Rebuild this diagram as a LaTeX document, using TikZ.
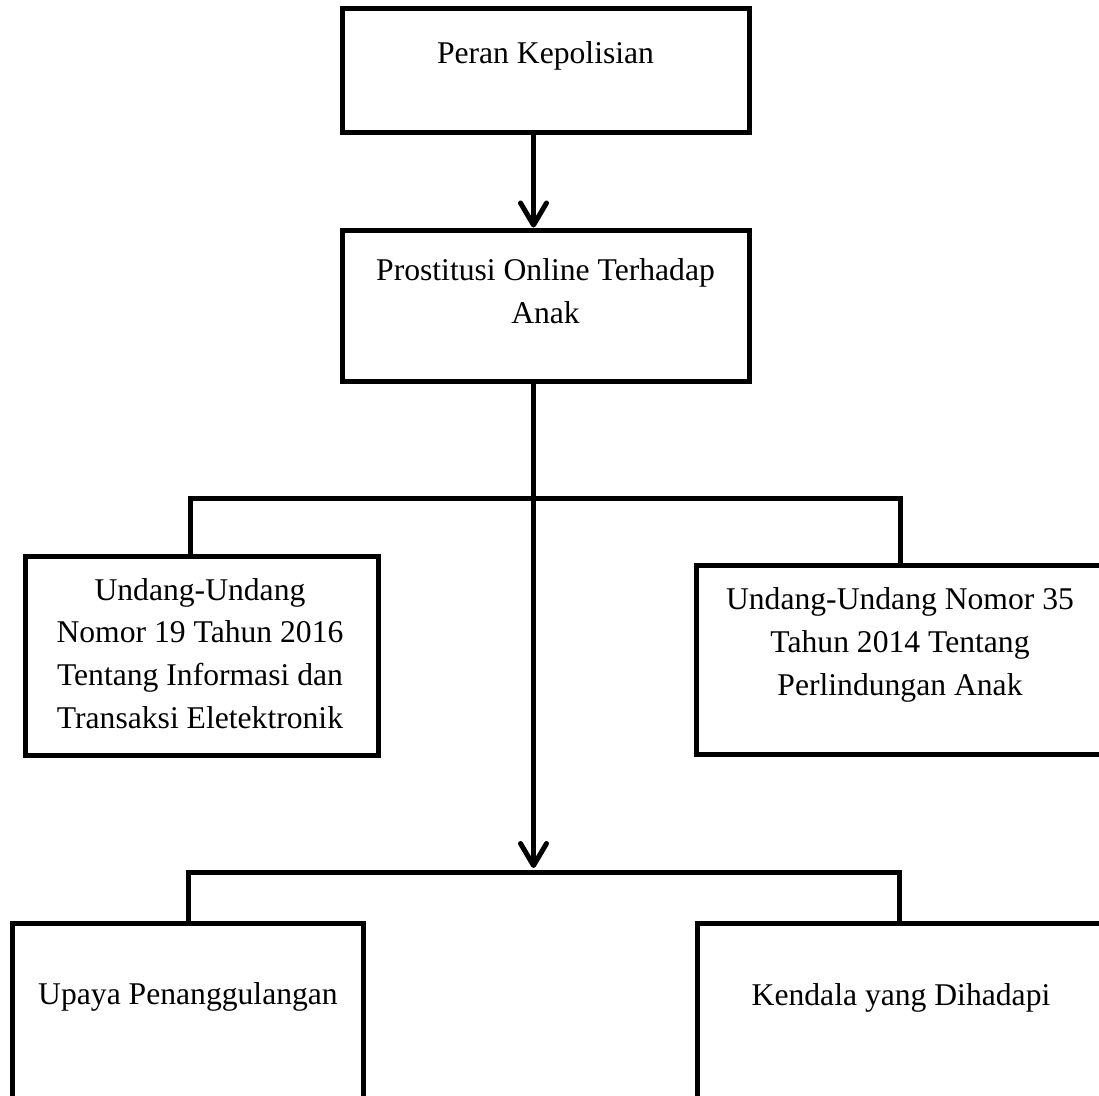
\documentclass[tikz,border=0pt]{standalone}
\usepackage{fontspec}
\setmainfont{Liberation Serif}
\usetikzlibrary{arrows.meta}

\begin{document}
\begin{tikzpicture}[
    box/.style={rectangle, draw, line width=1mm, inner sep=0pt},
    txt/.style={align=center, font=\fontsize{18}{24.4}\selectfont},
    line/.style={line width=1mm},
    arrow/.style={line width=1mm, -{Straight Barb[length=4.4mm, width=5.2mm, round]}}
]
    \useasboundingbox (0,0) rectangle (21.98,-21.9);
    \clip (0,0) rectangle (21.98,-21.9);

    % Peran
    \node[box, minimum width=8.14cm, minimum height=2.48cm] (peran) at (10.91,-1.40) {};
    \node[txt] (peranText) at (10.91,-1.12) {Peran Kepolisian};

    % Prostitusi
    \node[box, minimum width=8.14cm, minimum height=3.02cm] (prostitusi) at (10.91,-6.11) {};
    \node[txt] (prostitusiText) at (10.91,-5.83) {Prostitusi Online Terhadap\\Anak};

    % Undang-Undang
    \node[box, minimum width=7.06cm, minimum height=3.98cm] (uuite) at (4.03,-13.11) {};
    \node[txt] (uuiteText) at (4.0,-13.07) {Undang-Undang\\Nomor 19 Tahun 2016\\Tentang Informasi dan\\Transaksi Eletektronik};
    \node[box, minimum width=8.16cm, minimum height=3.78cm] (uupa) at (18.0,-13.19) {};
    \node[txt] (uupaText) at (18.0,-12.9) {Undang-Undang Nomor 35\\Tahun 2014 Tentang\\Perlindungan Anak};

    % Upaya dan Kendala
    \node[box, minimum width=7.02cm, minimum height=5.04cm] (upaya) at (3.75,-20.98) {};
    \node[txt] (upayaText) at (3.76,-19.94) {Upaya Penanggulangan};
    \node[box, minimum width=8.16cm, minimum height=5.04cm] (kendala) at (18.02,-20.98) {};
    \node[txt] (kendalaText) at (18.02,-19.96) {Kendala yang Dihadapi};

    % Coordinates
    \coordinate (spine) at (10.67,0);
    \coordinate (spineEnd) at (10.67,-17.36);
    \coordinate (leftA) at (3.80,-9.96);
    \coordinate (rightA) at (18.0,-9.96);
    \coordinate (leftB) at (3.76,-17.44);
    \coordinate (rightB) at (17.98,-17.44);

    % Arrows
    \draw[arrow] (peran.south -| spine) -- (prostitusi.north -| spine);
    \draw[arrow] (prostitusi.south -| spine) -- (spineEnd);
    \draw[line] (uuite.north -| leftA) -- (leftA) -- (rightA) -- (uupa.north -| rightA);
    \draw[line] (upaya.north -| leftB) -- (leftB) -- (rightB) -- (kendala.north -| rightB);

\end{tikzpicture}
\end{document}
